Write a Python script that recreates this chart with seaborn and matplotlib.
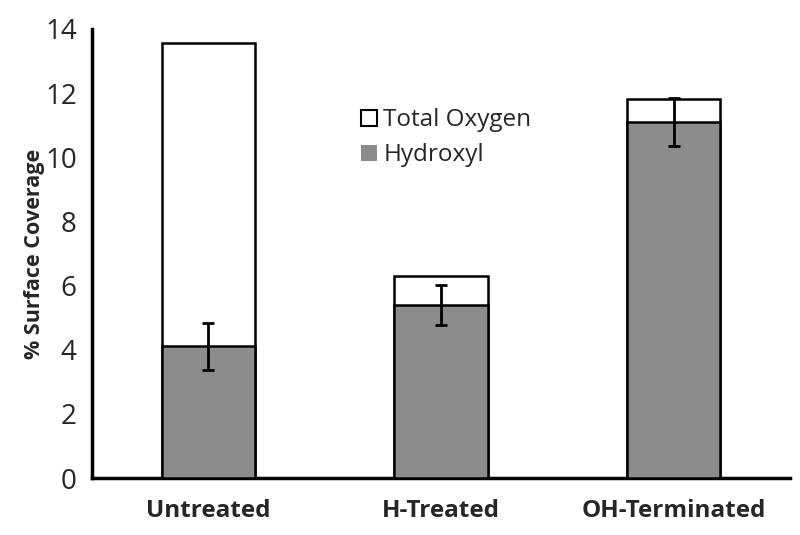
import matplotlib
matplotlib.use("Agg")
import matplotlib.pyplot as plt
import seaborn as sns
import pandas as pd
from matplotlib.patches import Patch

# data
categories = ["Untreated", "H-Treated", "OH-Terminated"]
total_oxygen = [13.55, 6.3, 11.8]
hydroxyl = [4.1, 5.4, 11.1]
hydroxyl_err = [0.72, 0.63, 0.76]
y_ticks = [0, 2, 4, 6, 8, 10, 12, 14]

sns.set_style("white")
plt.rcParams["font.family"] = ["Open Sans", "DejaVu Sans"]

df = pd.DataFrame({"cat": categories, "total": total_oxygen,
                   "hyd": hydroxyl, "err": hydroxyl_err})

fig = plt.figure(figsize=(8, 5.35), dpi=100)
ax = fig.add_axes([0.115, 0.1065, 0.8725, 0.8395])

sns.barplot(data=df, x="cat", y="total", color="white", edgecolor="black",
            linewidth=1.8, width=0.4, saturation=1, ax=ax, zorder=2)
sns.barplot(data=df, x="cat", y="hyd", color="#8c8c8c", edgecolor="black",
            linewidth=1.8, width=0.4, saturation=1, ax=ax, zorder=3)
ax.errorbar(range(len(categories)), df["hyd"], yerr=df["err"], fmt="none",
            ecolor="black", elinewidth=2, capsize=4, capthick=2, zorder=4)

ax.set_xlim(-0.5, 2.5)
ax.set_ylim(0, 14)
ax.set_yticks(y_ticks)
ax.set_yticklabels([str(t) for t in y_ticks], fontsize=20)
ax.set_xticks(range(len(categories)))
ax.set_xticklabels(categories, fontsize=17.5, fontweight="bold")
ax.set_xticks([-0.5, 0.5, 1.5, 2.5], minor=True)
ax.tick_params(axis="x", which="major", length=0, pad=15)
ax.tick_params(axis="x", which="minor", length=7, width=2.5, direction="out")
ax.tick_params(axis="y", length=7, width=2.5, direction="out", pad=4)
ax.set_xlabel("")
ax.set_ylabel("% Surface Coverage", fontsize=15.5, fontweight="bold")
ax.yaxis.set_label_coords(-0.068, 0.5)

for side in ["top", "right"]:
    ax.spines[side].set_visible(False)
for side in ["left", "bottom"]:
    ax.spines[side].set_linewidth(2.5)
    ax.spines[side].set_color("black")

handles = [Patch(facecolor="white", edgecolor="black", linewidth=1.5, label="Total Oxygen"),
           Patch(facecolor="#8c8c8c", edgecolor="none", label="Hydroxyl")]
ax.legend(handles=handles, loc="upper left", bbox_to_anchor=(0.372, 0.845),
          frameon=False, fontsize=17.5, handlelength=0.65, handleheight=0.65,
          handletextpad=0.25, labelspacing=0.45, borderaxespad=0)

fig.savefig("out.png", dpi=100)
